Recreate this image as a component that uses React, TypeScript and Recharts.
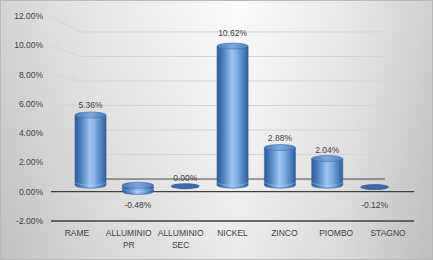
import React from 'react';
import { BarChart, Bar, XAxis, YAxis, LabelList, usePlotArea } from 'recharts';

const metals = ['RAME', 'ALLUMINIO PR', 'ALLUMINIO SEC', 'NICKEL', 'ZINCO', 'PIOMBO', 'STAGNO'];
const changes = [5.36, -0.48, 0.0, 10.62, 2.88, 2.04, -0.12];
const yTicks = [-2, 0, 2, 4, 6, 8, 10, 12];

const data = metals.map((name, i) => ({ name, value: changes[i] }));

const FONT = '"Liberation Sans", Arial, sans-serif';
const TEXT = '#3f3f3f';
const Y_MIN = -2;
const Y_MAX = 12;

// fake 3D: the front plane is the recharts plot area, bars and the back wall
// are the same coordinates pulled toward a vanishing point
type Plane = { kx: number; ky: number; cx: number; cy: number };
const BACK: Plane = { kx: 0.84, ky: 0.837, cx: 232, cy: 114 };
const MID: Plane = { kx: 0.913, ky: 0.895, cx: 232.5, cy: 130 };

function project(p: Plane, x: number, y: number): [number, number] {
  return [p.cx + (x - p.cx) * p.kx, p.cy + (y - p.cy) * p.ky];
}

function Walls() {
  const plot = usePlotArea();
  if (!plot) return null;
  const yOf = (v: number) => plot.y + ((Y_MAX - v) / (Y_MAX - Y_MIN)) * plot.height;
  const left = plot.x;
  const right = plot.x + plot.width;

  return (
    <g>
      <defs>
        <linearGradient id="cylBody" x1="0" y1="0" x2="1" y2="0">
          <stop offset="0%" stopColor="#2e5b97" />
          <stop offset="18%" stopColor="#4a7bbd" />
          <stop offset="48%" stopColor="#9fc4f0" />
          <stop offset="62%" stopColor="#86b0e6" />
          <stop offset="86%" stopColor="#4d7ec0" />
          <stop offset="100%" stopColor="#315e9b" />
        </linearGradient>
        <linearGradient id="cylTop" x1="0" y1="0" x2="1" y2="0">
          <stop offset="0%" stopColor="#4b7bbb" />
          <stop offset="50%" stopColor="#7ea9e0" />
          <stop offset="100%" stopColor="#4f7fbf" />
        </linearGradient>
      </defs>
      {yTicks
        .filter((t) => t > 0)
        .map((t) => {
          const [bx0, by] = project(BACK, left, yOf(t));
          const [bx1] = project(BACK, right, yOf(t));
          return (
            <g key={t}>
              <line x1={left} y1={yOf(t)} x2={bx0} y2={by} stroke="#d4d4d4" strokeWidth={1} />
              <line x1={bx0} y1={by} x2={bx1} y2={by} stroke="#d4d4d4" strokeWidth={1} />
            </g>
          );
        })}
      {(() => {
        const [bx0, by] = project(BACK, left, yOf(0));
        const [bx1] = project(BACK, right, yOf(0));
        return <line x1={bx0} y1={by} x2={bx1} y2={by} stroke="#4a4a4a" strokeWidth={1} />;
      })()}
      <line x1={left} y1={yOf(0)} x2={right} y2={yOf(0)} stroke="#404040" strokeWidth={1.3} />
      <line x1={left} y1={yOf(Y_MIN)} x2={right} y2={yOf(Y_MIN)} stroke="#404040" strokeWidth={1.3} />
    </g>
  );
}

function Cylinder(props: any) {
  const { x, y, width, height } = props;
  const yA = Math.min(y, y + height);
  const yB = Math.max(y, y + height);
  const [x0, top] = project(MID, x, yA);
  const [x1, bottom] = project(MID, x + width, yB);
  const rx = (x1 - x0) / 2;
  const cx = x0 + rx;
  const ry = 3;

  if (bottom - top < 2) {
    return <ellipse cx={cx} cy={(top + bottom) / 2 + 1} rx={rx * 0.92} ry={3} fill="#3d69a6" />;
  }

  return (
    <g>
      <path
        d={`M${x0},${top} L${x0},${bottom} A${rx},${ry} 0 0 0 ${x1},${bottom} L${x1},${top} Z`}
        fill="url(#cylBody)"
        stroke="#3a66a3"
        strokeWidth={0.6}
      />
      <path
        d={`M${x0},${bottom - 3} A${rx},${ry} 0 0 0 ${x1},${bottom - 3}`}
        fill="none"
        stroke="rgba(255,255,255,0.3)"
        strokeWidth={0.8}
      />
      <ellipse cx={cx} cy={top} rx={rx} ry={ry} fill="url(#cylTop)" stroke="#3f6dab" strokeWidth={0.6} />
    </g>
  );
}

function ValueLabel(props: any) {
  const vb = props.viewBox ?? props;
  const { x, y, width, height } = vb;
  const value = Number(props.value);
  const yA = Math.min(y, y + height);
  const yB = Math.max(y, y + height);
  const [cx] = project(MID, x + width / 2, yA);
  const zero = value >= 0 ? yB : yA;
  const labelY = value >= 0 ? 178 + (yA - zero) * 0.932 - (zero - 191.4) : zero + 13;
  return (
    <text
      x={cx}
      y={labelY}
      textAnchor="middle"
      dominantBaseline="central"
      fontSize={8.5}
      fontFamily={FONT}
      fill={TEXT}
    >
      {value.toFixed(2)}%
    </text>
  );
}

function MetalTick({ x, y, payload }: any) {
  const lines = String(payload.value).split(' ');
  return (
    <text x={x} y={y} textAnchor="middle" fontSize={8.5} fontFamily={FONT} fill={TEXT}>
      {lines.map((line, i) => (
        <tspan key={i} x={x} dy={i === 0 ? 15 : 12}>
          {line}
        </tspan>
      ))}
    </text>
  );
}

export default function App() {
  return (
    <div
      style={{
        position: 'absolute',
        left: 0,
        top: 0,
        width: 433,
        height: 260,
        boxSizing: 'border-box',
        border: '1px solid #b8b8b8',
        background:
          'linear-gradient(180deg, rgba(255,255,255,0.15) 0%, rgba(0,0,0,0.06) 100%), linear-gradient(90deg, #cdcdcd 0%, #e4e4e4 22%, #fafafa 55%, #e6e6e6 80%, #c9c9c9 100%)',
      }}
    >
      <div style={{ position: 'absolute', left: -1, top: -1 }}>
        <BarChart
          width={433}
          height={260}
          data={data}
          margin={{ top: 16, right: 19, bottom: 9, left: 6 }}
          barSize={34}
        >
          <XAxis
            dataKey="name"
            height={30}
            interval={0}
            axisLine={false}
            tickLine={false}
            tickSize={0}
            tickMargin={0}
            tick={<MetalTick />}
          />
          <YAxis
            type="number"
            width={45}
            domain={[Y_MIN, Y_MAX]}
            ticks={yTicks}
            interval={0}
            axisLine={false}
            tickLine={false}
            tickSize={0}
            tickMargin={8}
            tickFormatter={(v: number) => `${v.toFixed(2)}%`}
            tick={{ fontSize: 8.5, fontFamily: FONT, fill: TEXT }}
          />
          <Walls />
          <Bar dataKey="value" isAnimationActive={false} shape={(p: any) => <Cylinder {...p} />}>
            <LabelList dataKey="value" content={<ValueLabel />} />
          </Bar>
        </BarChart>
      </div>
    </div>
  );
}
